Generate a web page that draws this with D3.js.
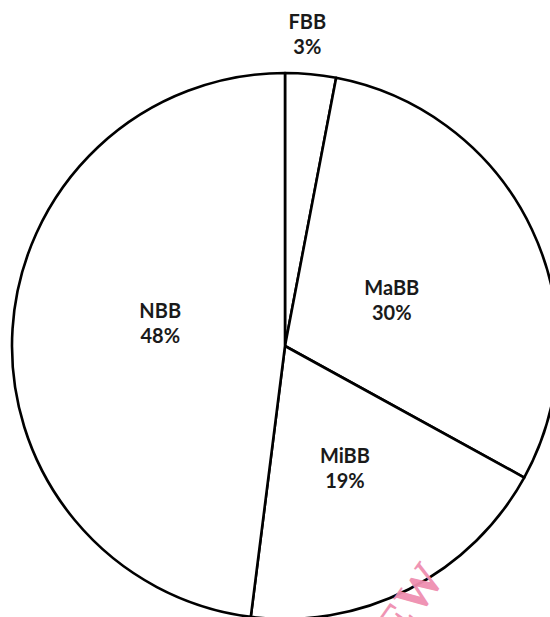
<!DOCTYPE html>
<html>
<head>
<meta charset="utf-8">
<script src="https://cdn.jsdelivr.net/npm/d3@7"></script>
<style>
  html, body { margin: 0; padding: 0; background: #fff; }
  svg { display: block; }
</style>
</head>
<body>
<svg id="chart" width="550" height="617"></svg>
<script>
const categories = ["FBB", "MaBB", "MiBB", "NBB"];
const values = [3, 30, 19, 48];
const percentLabels = ["3%", "30%", "19%", "48%"];

const svg = d3.select("#chart");
const cx = 285, cy = 346, r = 273;

const pie = d3.pie().sort(null).value(d => d.value);
const arcs = pie(categories.map((c, i) => ({ name: c, value: values[i], label: percentLabels[i] })));
const arc = d3.arc().innerRadius(0).outerRadius(r);

const g = svg.append("g").attr("transform", `translate(${cx},${cy})`);

g.selectAll("path.slice")
  .data(arcs)
  .join("path")
  .attr("class", "slice")
  .attr("d", arc)
  .attr("fill", "#fff")
  .attr("stroke", "#000")
  .attr("stroke-width", 2.6)
  .attr("stroke-linejoin", "round");

// label placement: radius per slice (layout, not data)
const labelRadius = { FBB: 312, MaBB: 118, MiBB: 132, NBB: 125 };
const labelShift = { FBB: [-7, 0], MaBB: [0, 5], MiBB: [0, 5], NBB: [0, -14] };

const labels = g.selectAll("g.lbl")
  .data(arcs)
  .join("g")
  .attr("class", "lbl")
  .attr("transform", d => {
    const a = (d.startAngle + d.endAngle) / 2;
    const rr = labelRadius[d.data.name];
    const s = labelShift[d.data.name];
    return `translate(${rr * Math.sin(a) + s[0]},${-rr * Math.cos(a) + s[1]})`;
  });

labels.append("text")
  .attr("text-anchor", "middle")
  .attr("y", -6)
  .style("font-family", "Lato, 'Open Sans', sans-serif")
  .style("font-weight", "bold")
  .style("font-size", "20px")
  .attr("fill", "#1a1a1a")
  .text(d => d.data.name);

labels.append("text")
  .attr("text-anchor", "middle")
  .attr("y", 19)
  .style("font-family", "Lato, 'Open Sans', sans-serif")
  .style("font-weight", "bold")
  .style("font-size", "20px")
  .attr("fill", "#1a1a1a")
  .text(d => d.data.label);

// watermark
svg.append("text")
  .attr("transform", "translate(446,578) rotate(-55)")
  .attr("text-anchor", "end")
  .style("font-family", "'Liberation Serif', serif")
  .style("font-weight", "bold")
  .style("font-size", "48px")
  .attr("fill", "#ef8fb0")
  .attr("opacity", 0.95)
  .text("REVIEW");
</script>
</body>
</html>
